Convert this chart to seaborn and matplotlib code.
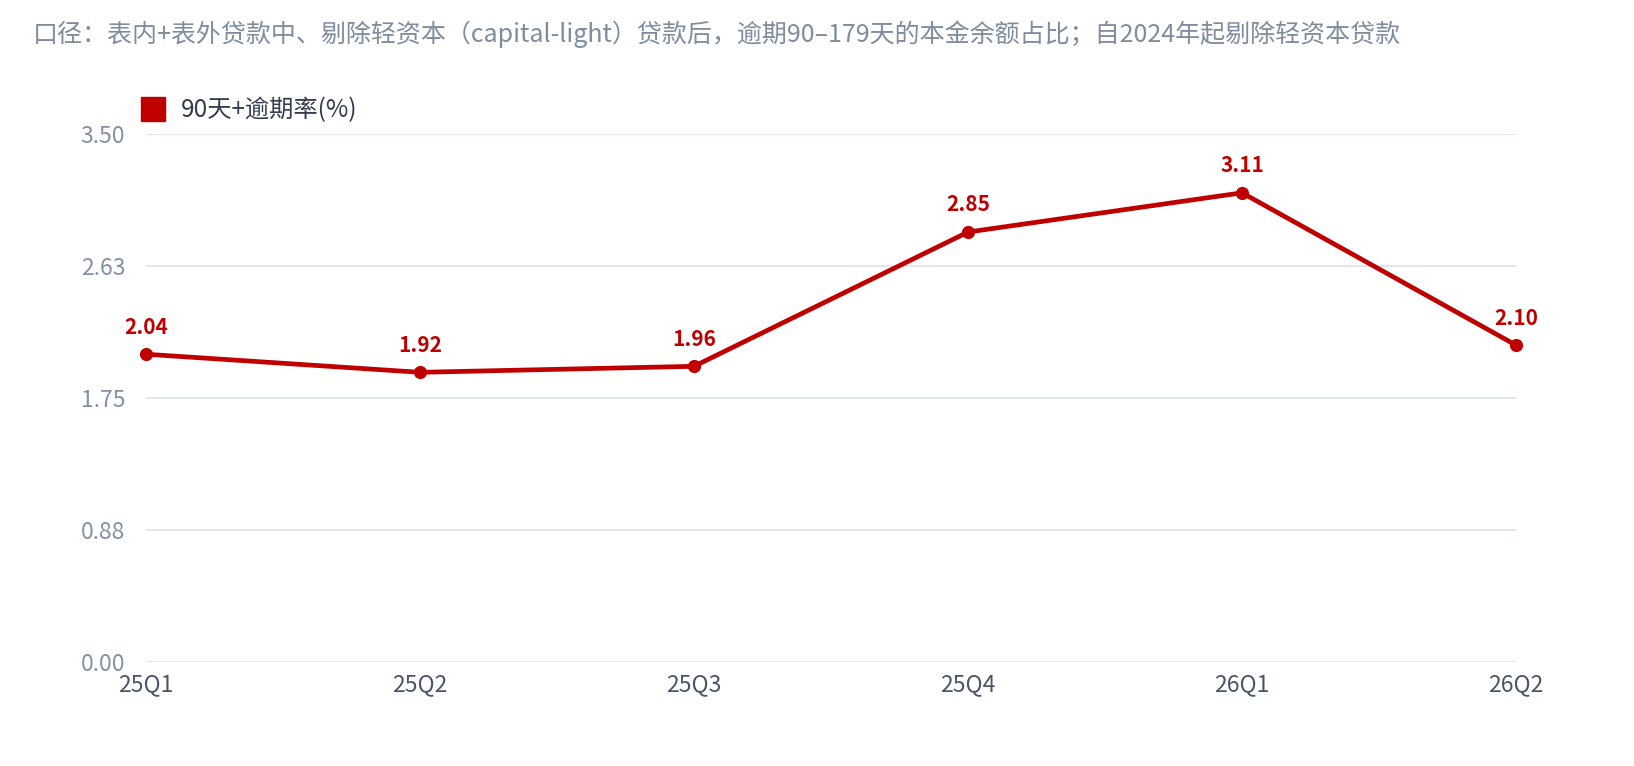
import matplotlib
matplotlib.use("Agg")
import matplotlib.pyplot as plt
import seaborn as sns
import pandas as pd
from matplotlib.lines import Line2D

quarters = ["25Q1", "25Q2", "25Q3", "25Q4", "26Q1", "26Q2"]
npl_90 = [2.04, 1.92, 1.96, 2.85, 3.11, 2.10]
y_ticks = [0.0, 0.875, 1.75, 2.625, 3.5]
y_tick_labels = ["0.00", "0.88", "1.75", "2.63", "3.50"]
series_name = "90天+逾期率(%)"
title = "口径：表内+表外贷款中、剔除轻资本（capital-light）贷款后，逾期90–179天的本金余额占比；自2024年起剔除轻资本贷款"

RED = "#c00000"

sns.set_theme(style="white")
plt.rcParams["font.family"] = ["Noto Sans CJK SC", "DejaVu Sans"]

df = pd.DataFrame({"quarter": quarters, "value": npl_90})
df["x"] = range(len(df))

fig = plt.figure(figsize=(16.34, 7.66), dpi=100)
ax = fig.add_axes([0.0894, 0.1358, 0.8384, 0.6893])

sns.lineplot(data=df, x="x", y="value", ax=ax, color=RED, linewidth=3.4,
             marker="o", markersize=9.5, markeredgewidth=0, zorder=3)

for xi, v in zip(df["x"], df["value"]):
    ax.annotate(f"{v:.2f}", (xi, v), xytext=(0, 12), textcoords="offset points",
                ha="center", va="bottom", color=RED, fontsize=15, fontweight="bold")

ax.set_xlim(0, len(quarters) - 1)
ax.set_ylim(0, 3.5)
ax.set_xticks(df["x"])
ax.set_xticklabels(quarters)
ax.set_yticks(y_ticks)
ax.set_yticklabels(y_tick_labels)
ax.tick_params(axis="x", colors="#4a5568", labelsize=16.5, length=0, pad=8)
ax.tick_params(axis="y", colors="#8291a8", labelsize=16.5, length=0, pad=15)
ax.grid(axis="y", color="#e3e7ef", linewidth=1.5)
ax.set_axisbelow(True)
for s in ax.spines.values():
    s.set_visible(False)
ax.set_xlabel("")
ax.set_ylabel("")
for line in ax.lines:
    line.set_clip_on(False)

handle = Line2D([], [], linestyle="none", marker="s", markersize=17,
                markerfacecolor=RED, markeredgecolor=RED)
leg = ax.legend([handle], [series_name], loc="lower left",
                bbox_to_anchor=(-0.017, 1.0), frameon=False, fontsize=17.5,
                handletextpad=0.35, handlelength=1.6, borderaxespad=0.05)
for t in leg.get_texts():
    t.set_color("#333d4f")

fig.text(0.02, 0.955, title, ha="left", va="center", fontsize=18, color="#7f8ca0")

fig.savefig("out.png", dpi=100)
